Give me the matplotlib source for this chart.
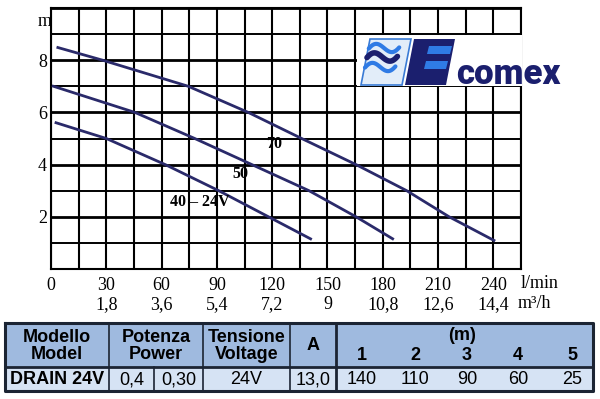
import numpy as np
import matplotlib
matplotlib.use("Agg")
import matplotlib.pyplot as plt
from matplotlib.patches import Polygon, Rectangle
from matplotlib.transforms import blended_transform_factory

# curves (l/min, m)
q70 = [3, 28, 74.5, 107, 136, 165.5, 193, 216, 241]
h70 = [8.5, 8.0, 7.0, 6.0, 5.0, 4.0, 3.0, 2.0, 1.07]
q50 = [0.5, 45.5, 78, 109, 140, 165.5, 186]
h50 = [7.02, 6.0, 5.0, 4.0, 3.0, 2.0, 1.13]
q40 = [2, 30, 62, 91, 118, 141.5]
h40 = [5.62, 5.0, 4.0, 3.0, 2.0, 1.13]

xticks = [0, 30, 60, 90, 120, 150, 180, 210, 240]
m3h = ["1,8", "3,6", "5,4", "7,2", "9", "10,8", "12,6", "14,4"]
yticks = [2, 4, 6, 8]

# table
head_main = ["Modello\nModel", "Potenza\nPower", "Tensione\nVoltage", "A"]
head_m = ["1", "2", "3", "4", "5"]
row_model = "DRAIN 24V"
row_vals = ["0,4", "0,30", "24V", "13,0"]
flows = [140, 110, 90, 60, 25]

serif = "Liberation Serif"
sans = ["Liberation Sans", "DejaVu Sans"]
navy = "#2a2a6a"

fig = plt.figure(figsize=(6, 3.99), dpi=100)
ax = fig.add_axes([51 / 600, (399 - 269) / 399, 470 / 600, 261 / 399])
ax.set_xlim(0, 255)
ax.set_ylim(0, 10)

for x in range(0, 256, 15):
    ax.axvline(x, color="black", lw=1.5, zorder=1)
for y in range(0, 11):
    ax.axhline(y, color="black", lw=2.0 if y % 2 == 0 else 1.4, zorder=1)
for s in ax.spines.values():
    s.set_linewidth(1.5)

for q, h in [(q70, h70), (q50, h50), (q40, h40)]:
    ax.plot(q, h, color=navy, lw=2.0, zorder=3, solid_capstyle="butt")

ax.text(121, 4.8, "70", fontsize=11.5, fontweight="bold", family=serif,
        ha="center", va="center", zorder=4)
ax.text(103, 3.63, "50", fontsize=11.5, fontweight="bold", family=serif,
        ha="center", va="center", zorder=4)
ax.text(80.5, 2.58, "40 – 24V", fontsize=11.5, fontweight="bold", family=serif,
        ha="center", va="center", zorder=4)

ax.set_xticks(xticks)
ax.set_xticklabels([str(v) for v in xticks], family=serif, fontsize=13)
ax.set_yticks(yticks)
ax.set_yticklabels([str(v) for v in yticks], family=serif, fontsize=13)
ax.tick_params(axis="x", length=0, pad=6)
ax.tick_params(axis="y", length=0, pad=3)

tr = blended_transform_factory(ax.transData, ax.transAxes)
for x, lab in zip(xticks[1:], m3h):
    ax.text(x, -0.135, lab, transform=tr, family=serif, fontsize=13,
            ha="center", va="center")

# overlay in pixel coordinates
bg = fig.add_axes([0, 0, 1, 1], zorder=5)
bg.set_xlim(0, 600)
bg.set_ylim(399, 0)
bg.set_axis_off()

bg.text(521, 283, "l/min", family=serif, fontsize=13, ha="left", va="center")
bg.text(518, 304, "m³/h", family=serif, fontsize=13, ha="left", va="center")
bg.text(45, 21, "m", family=serif, fontsize=13, ha="center", va="center")

# logo
bg.add_patch(Rectangle((357, 35), 165, 51, facecolor="white", edgecolor="none"))
bg.add_patch(Polygon([(361, 85), (370, 39), (411, 39), (402, 85)],
                     facecolor="#e2edf9", edgecolor="#3a7bd5", lw=1.2))
t = np.linspace(0, 1, 40)
for off, col, w in [(0, "#2f7be5", 3.0), (9, "#1b1f6e", 4.0), (19, "#2f7be5", 3.0)]:
    xs = 366 + 36 * t - off * 0.2
    ys = 52 + off - 6 * np.sin(2 * np.pi * t) - 8 * t
    bg.plot(xs[3:-3], ys[3:-3], color=col, lw=w, solid_capstyle="round")
bg.add_patch(Polygon([(405, 85), (414, 39), (455, 39), (446, 85)],
                     facecolor="#1b1f6e", edgecolor="none"))
bg.add_patch(Polygon([(427, 54), (429, 46), (452, 46), (450, 54)],
                     facecolor="#2f7be5", edgecolor="none"))
bg.add_patch(Polygon([(424, 69), (426, 61), (448, 61), (446, 69)],
                     facecolor="#2f7be5", edgecolor="none"))
bg.text(456, 84, "comex", family=["Roboto", "DejaVu Sans"], fontweight="black",
        fontsize=25, color="#1b1f6e", ha="left", va="baseline")

# table
L, R = 5, 593
top, mid, bot = 323, 367, 391
cols = [5, 109, 203, 290, 336, 593]
split = 154
m_centers = [362, 415, 467, 518, 572]
head_fill = "#9fbadf"
row_fill = "#d6e3f4"
edge = "#1b2433"

bg.add_patch(Rectangle((L, top), R - L, mid - top, facecolor=head_fill, edgecolor="none"))
bg.add_patch(Rectangle((L, mid), R - L, bot - mid, facecolor=row_fill, edgecolor="none"))
bg.plot([L, R, R, L, L], [top, top, bot, bot, top], color=edge, lw=2.2)
bg.plot([L, R], [mid, mid], color=edge, lw=2.0)
for c in cols[1:-1]:
    bg.plot([c, c], [top, bot], color=edge, lw=1.2 if c != 336 else 2.0)
bg.plot([split, split], [mid, bot], color=edge, lw=1.2)

for i, lab in enumerate(head_main):
    cx = (cols[i] + cols[i + 1]) / 2
    bg.text(cx, (top + mid) / 2 + 1, lab, family=sans, fontsize=13,
            fontweight="bold", ha="center", va="center", linespacing=1.0)
bg.text((336 + 593) / 2 - 2, 335, "(m)", family=sans, fontsize=13,
        fontweight="bold", ha="center", va="center")
for cx, lab in zip(m_centers, head_m):
    bg.text(cx, 356, lab, family=sans, fontsize=13, fontweight="bold",
            ha="center", va="center")

ry = (mid + bot) / 2 + 1
bg.text((cols[0] + cols[1]) / 2, ry, row_model, family=sans, fontsize=13,
        fontweight="bold", ha="center", va="center")
val_x = [(cols[1] + split) / 2, (split + cols[2]) / 2,
         (cols[2] + cols[3]) / 2, (cols[3] + cols[4]) / 2]
for cx, lab in zip(val_x, row_vals):
    bg.text(cx, ry, lab, family=sans, fontsize=13, ha="center", va="center")
for cx, v in zip(m_centers, flows):
    bg.text(cx, ry, str(v), family=sans, fontsize=13, ha="center", va="center")

fig.savefig("out.png", dpi=100)
